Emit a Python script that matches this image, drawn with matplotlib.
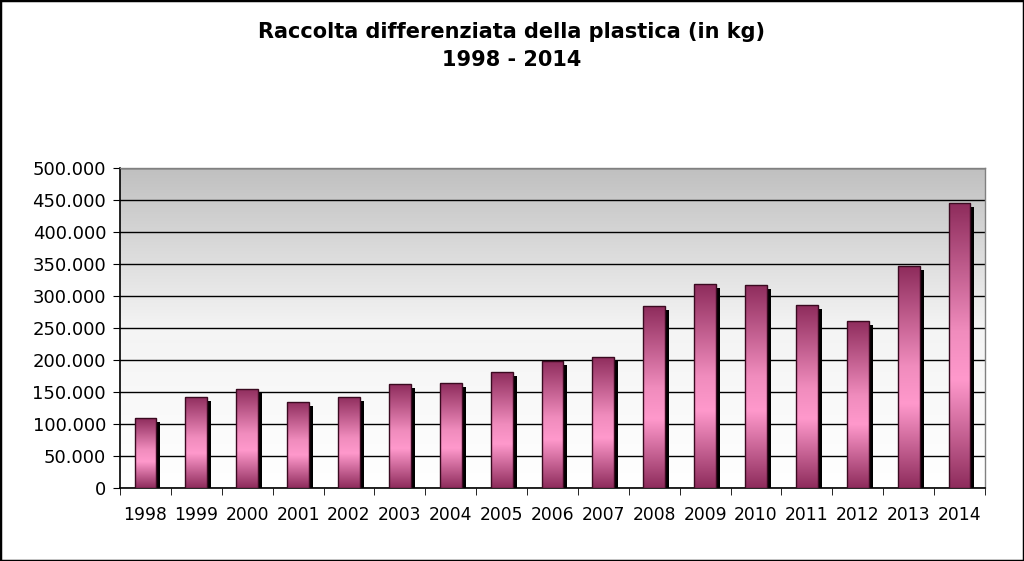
import numpy as np
import matplotlib
matplotlib.use('Agg')
import matplotlib.pyplot as plt
from matplotlib.colors import LinearSegmentedColormap
from matplotlib.ticker import FuncFormatter, FixedLocator
from matplotlib.patches import Rectangle
import matplotlib.transforms as mtransforms

plt.rcParams['font.family'] = ['DejaVu Sans']

anni = ['1998', '1999', '2000', '2001', '2002', '2003', '2004', '2005', '2006',
        '2007', '2008', '2009', '2010', '2011', '2012', '2013', '2014']
kg = [108700, 142200, 154700, 134800, 142200, 162000, 164000, 181200, 198900,
      204700, 283800, 318700, 317200, 285300, 261400, 346300, 444700]

fig = plt.figure(figsize=(10.24, 5.61), dpi=100)
ax = fig.add_axes([120/1024, 1 - 488/561, 865/1024, 320/561])

x = np.arange(len(anni))
w = 0.43
ax.set_xlim(-0.5, len(anni) - 0.5)
ax.set_ylim(0, 500000)

# sfondo sfumato (bianco in basso, grigio in alto)
bg = LinearSegmentedColormap.from_list('bg', ['#ffffff', '#f4f4f4', '#c0c0c0'])
ax.imshow(np.linspace(0, 1, 256).reshape(-1, 1), cmap=bg, origin='lower',
          extent=[-0.5, len(anni) - 0.5, 0, 500000], aspect='auto', zorder=0)

ax.yaxis.grid(True, color='black', linewidth=1)
ax.set_axisbelow(True)

# ombre
shift = mtransforms.ScaledTranslation(4/100, -4/100, fig.dpi_scale_trans)
ax.bar(x, kg, width=w, color='black', transform=ax.transData + shift, zorder=2)

# barre sfumate
cm = LinearSegmentedColormap.from_list('bar', [(0, '#8e2c5c'), (0.38, '#ff99cc'),
                                               (0.55, '#f08cbd'), (1, '#8e2c5c')])
bars = ax.bar(x, kg, width=w, color='none', edgecolor='#3a0a20', linewidth=1, zorder=4)
for b in bars:
    x0, y0 = b.get_x(), b.get_y()
    im = ax.imshow(np.linspace(0, 1, 256).reshape(-1, 1), cmap=cm, origin='lower',
                   extent=[x0, x0 + b.get_width(), y0, y0 + b.get_height()],
                   aspect='auto', zorder=3)
    im.set_clip_path(b)

ax.set_xlim(-0.5, len(anni) - 0.5)
ax.set_ylim(0, 500000)

ax.set_xticks(x)
ax.set_xticklabels(anni, fontsize=12.3)
ax.tick_params(axis='x', length=0, pad=13)
ax.xaxis.set_minor_locator(FixedLocator(np.arange(-0.5, len(anni), 1)))
ax.tick_params(axis='x', which='minor', length=5, direction='out', color='black')

ax.set_yticks(np.arange(0, 500001, 50000))
ax.yaxis.set_major_formatter(FuncFormatter(lambda v, p: '{:,.0f}'.format(v).replace(',', '.')))
ax.tick_params(axis='y', length=5, direction='out', labelsize=13, pad=5)

for s in ['left', 'bottom']:
    ax.spines[s].set_color('black')
    ax.spines[s].set_linewidth(1.2)
for s in ['top', 'right']:
    ax.spines[s].set_color('#808080')
    ax.spines[s].set_linewidth(1)

fig.text(0.5, 1 - 32/561, 'Raccolta differenziata della plastica (in kg)', ha='center', va='center',
         fontsize=15, fontweight='bold')
fig.text(0.5, 1 - 60/561, '1998 - 2014', ha='center', va='center', fontsize=15, fontweight='bold')

fig.patches.append(Rectangle((0, 0), 1, 1, transform=fig.transFigure, fill=False,
                             edgecolor='black', linewidth=2.5))

fig.savefig('out.png', dpi=100)
